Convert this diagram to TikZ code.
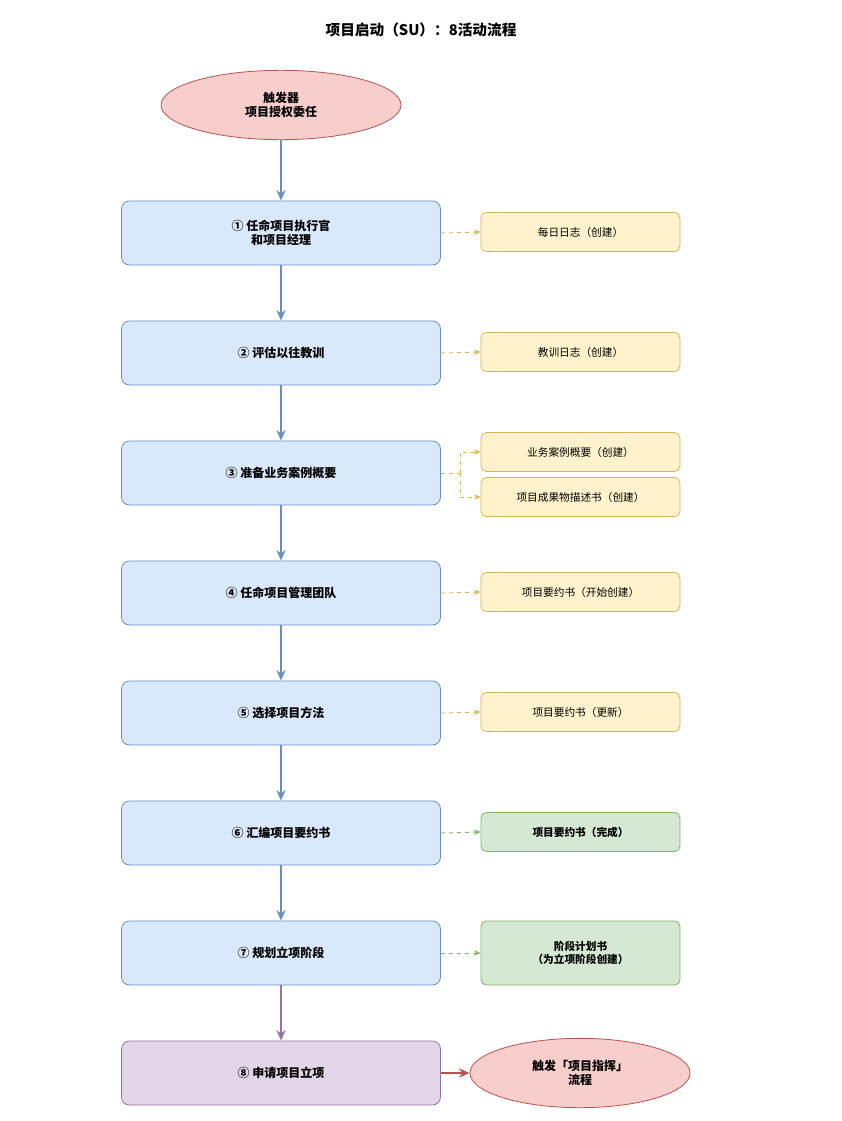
\documentclass[tikz,border=0pt]{standalone}
\usepackage{fontspec}
\setmainfont{Noto Sans CJK SC}
\usetikzlibrary{shapes.geometric,arrows.meta}
\definecolor{bfill}{HTML}{DAE8FC}\definecolor{bline}{HTML}{6C8EBF}
\definecolor{yfill}{HTML}{FFF2CC}\definecolor{yline}{HTML}{D6B656}
\definecolor{gfill}{HTML}{D5E8D4}\definecolor{gline}{HTML}{82B366}
\definecolor{pfill}{HTML}{E1D5E7}\definecolor{pline}{HTML}{9673A6}
\definecolor{rfill}{HTML}{F8CECC}\definecolor{rline}{HTML}{B85450}
\begin{document}
\begin{tikzpicture}[x=0.75pt,y=-0.75pt,
 main/.style={draw=bline,fill=bfill,rounded corners=6pt,minimum width=239.25pt,minimum height=48pt,font=\bfseries\fontsize{9}{11}\selectfont,align=center,line width=0.6pt},
 side/.style={draw=yline,fill=yfill,rounded corners=4pt,minimum width=149.25pt,minimum height=29.25pt,font=\fontsize{8}{10}\selectfont,align=center,line width=0.6pt},
 gside/.style={side,draw=gline,fill=gfill,font=\bfseries\fontsize{8}{10}\selectfont},
 ell/.style={ellipse,draw=rline,fill=rfill,font=\bfseries\fontsize{9}{11}\selectfont,align=center,line width=0.6pt},
 arr/.style={-{Stealth[length=8pt,width=7pt]},line width=1.4pt,draw=bline},
 dsh/.style={-{Stealth[length=5pt,width=4pt]},dashed,line width=0.7pt,draw=yline},
]
\useasboundingbox (0,0) rectangle (842,1121);
\node[font=\bfseries\fontsize{11}{13}\selectfont] (title) at (421,30) {项目启动（SU）：8活动流程};
\node[ell,minimum width=180pt,minimum height=52pt] (trig) at (281,105) {触发器\\项目授权委任};
\node[main] (m1) at (281,233) {① 任命项目执行官\\和项目经理};
\node[main] (m2) at (281,353) {② 评估以往教训};
\node[main] (m3) at (281,473) {③ 准备业务案例概要};
\node[main] (m4) at (281,593) {④ 任命项目管理团队};
\node[main] (m5) at (281,713) {⑤ 选择项目方法};
\node[main] (m6) at (281,833) {⑥ 汇编项目要约书};
\node[main] (m7) at (281,953) {⑦ 规划立项阶段};
\node[main,draw=pline,fill=pfill] (m8) at (281,1073) {⑧ 申请项目立项};
\node[ell,minimum width=165pt,minimum height=52pt] (end) at (580,1073) {触发「项目指挥」\\流程};
\node[side] (s1) at (580.5,232) {每日日志（创建）};
\node[side] (s2) at (580.5,352) {教训日志（创建）};
\node[side] (s3a) at (580.5,452) {业务案例概要（创建）};
\node[side] (s3b) at (580.5,497) {项目成果物描述书（创建）};
\node[side] (s4) at (580.5,592) {项目要约书（开始创建）};
\node[side] (s5) at (580.5,712) {项目要约书（更新）};
\node[gside] (s6) at (580.5,832) {项目要约书（完成）};
\node[gside,minimum height=48pt] (s7) at (580.5,953) {阶段计划书\\（为立项阶段创建）};
\draw[arr] (trig) -- (m1);
\draw[arr] (m1) -- (m2);\draw[arr] (m2) -- (m3);\draw[arr] (m3) -- (m4);
\draw[arr] (m4) -- (m5);\draw[arr] (m5) -- (m6);\draw[arr] (m6) -- (m7);
\draw[arr,draw=pline] (m7) -- (m8);
\draw[arr,draw=rline] (m8) -- (end);
\draw[dsh] (m1.east) -- (s1.west);
\draw[dsh] (m2.east) -- (s2.west);
\coordinate (j) at (460,473);
\draw[dsh,-] (m3.east) -- (j);
\draw[dsh] (j) |- (s3a.west);
\draw[dsh] (j) |- (s3b.west);
\draw[dsh] (m4.east) -- (s4.west);
\draw[dsh] (m5.east) -- (s5.west);
\draw[dsh,draw=gline] (m6.east) -- (s6.west);
\draw[dsh,draw=gline] (m7.east) -- (s7.west);
\end{tikzpicture}
\end{document}
